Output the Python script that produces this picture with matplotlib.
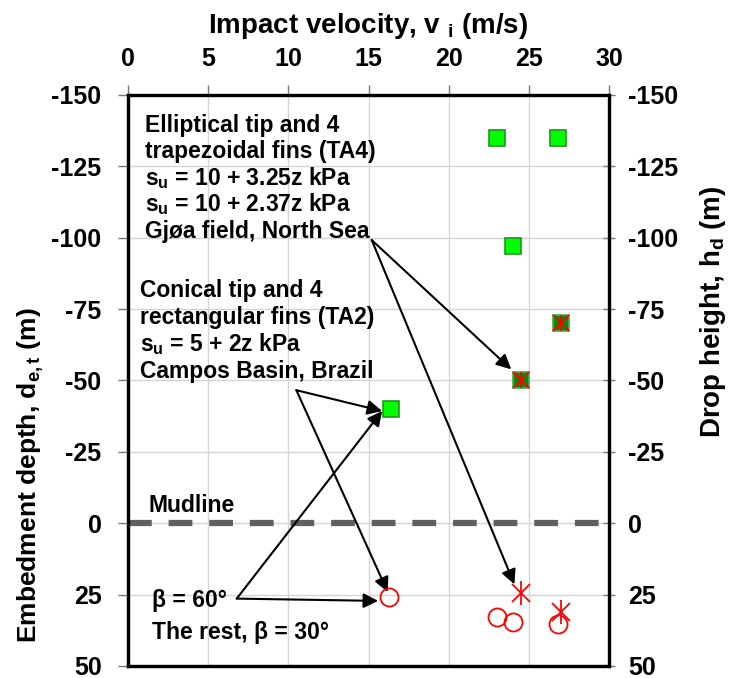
import numpy as np
import matplotlib.pyplot as plt

plt.rcParams['font.family'] = ['Liberation Sans', 'DejaVu Sans']
plt.rcParams['font.weight'] = 'bold'
plt.rcParams['axes.unicode_minus'] = False
plt.rcParams['mathtext.fontset'] = 'custom'
plt.rcParams['mathtext.rm'] = 'Liberation Sans:bold'
plt.rcParams['mathtext.it'] = 'Liberation Sans:bold'
plt.rcParams['mathtext.bf'] = 'Liberation Sans:bold'

# drop heights (negative = above mudline) vs impact velocity
ta4_v = [23.0, 26.8, 24.0]
ta4_h = [-135, -135, -97]
ta4_field_v = [27.0, 24.5]
ta4_field_h = [-70, -50]
ta2_v = [16.4]
ta2_h = [-40]

# embedment depths
ta4_emb_v = [23.0, 24.0, 26.8]
ta4_emb_d = [33.0, 34.6, 35.4]
ta4_field_emb_v = [24.5, 27.0]
ta4_field_emb_d = [24.4, 31.1]
ta2_emb_v = [16.3]
ta2_emb_d = [26.0]

mud_v = [0, 30]
mud_d = [0, 0]

yticks = [-150, -125, -100, -75, -50, -25, 0, 25, 50]
xticks = [0, 5, 10, 15, 20, 25, 30]

fig = plt.figure(figsize=(7.34, 6.78), dpi=100)
ax = fig.add_axes([0.1744, 0.0177, 0.6553, 0.8422])

ax.set_xlim(0, 30)
ax.set_ylim(50, -150)
ax.set_xticks(xticks)
ax.set_yticks(yticks)
ax.grid(True, color='#d4d4d4', lw=1.0)
ax.set_axisbelow(True)
ax.xaxis.tick_top()
ax.xaxis.set_label_position('top')
ax.tick_params(axis='both', labelsize=18, color='#777777', length=7, width=1)
ax.tick_params(axis='y', pad=12)
ax.tick_params(axis='x', pad=10)
for lab in ax.get_xticklabels() + ax.get_yticklabels():
    lab.set_fontweight('bold')
for s in ax.spines.values():
    s.set_linewidth(2.3)

ax.plot(mud_v, mud_d, color='#606060', lw=4.5, dashes=(3.8, 2.7), zorder=2)

ax.plot(ta4_v, ta4_h, 's', ms=12, mfc='#00ff00', mec='#1a9a1a', mew=1.2, zorder=4)
ax.plot(ta2_v, ta2_h, 's', ms=12, mfc='#00ff00', mec='#1a9a1a', mew=1.2, zorder=4)
ax.plot(ta4_field_v, ta4_field_h, 's', ms=12, mfc='#0a8a0a', mec='#4aaa4a', mew=1.2, zorder=4)
ax.plot(ta4_field_v, ta4_field_h, 'x', ms=11, color='red', mew=1.3, zorder=5)
ax.plot(ta4_field_v, ta4_field_h, '|', ms=12, color='red', mew=1.3, zorder=5)

ax.plot(ta4_emb_v, ta4_emb_d, 'o', ms=13, mfc='none', mec='red', mew=1.3, zorder=4)
ax.plot(ta2_emb_v, ta2_emb_d, 'o', ms=13, mfc='none', mec='red', mew=1.3, zorder=4)
ax.plot(ta4_field_emb_v, ta4_field_emb_d, 'x', ms=13, color='red', mew=1.3, zorder=5)
ax.plot(ta4_field_emb_v, ta4_field_emb_d, '|', ms=17, color='red', mew=1.3, zorder=5)

ax.set_xlabel(r'Impact velocity, v $_{\mathregular{i}}$ (m/s)', fontsize=20,
              fontweight='bold', labelpad=10)
ax.set_ylabel(r'Embedment depth, d$_{\mathregular{e,t}}$ (m)', fontsize=19,
              fontweight='bold')
ax.yaxis.set_label_coords(-0.17, 0.335)

ax2 = ax.twinx()
ax2.set_ylim(50, -150)
ax2.set_yticks(yticks)
ax2.tick_params(axis='y', labelsize=18, color='#777777', length=8, width=1,
                direction='inout', pad=10)
for lab in ax2.get_yticklabels():
    lab.set_fontweight('bold')
for s in ax2.spines.values():
    s.set_linewidth(2.3)
ax2.set_ylabel(r'Drop height, h$_{\mathregular{d}}$ (m)', fontsize=20, fontweight='bold')
ax2.yaxis.set_label_coords(1.184, 0.62)

# text blocks
ta4_lines = ['Elliptical tip and 4', 'trapezoidal fins (TA4)',
             r's$_{\mathregular{u}}$ = 10 + 3.25z kPa',
             r's$_{\mathregular{u}}$ = 10 + 2.37z kPa',
             'Gjøa field, North Sea']
for i, t in enumerate(ta4_lines):
    ax.text(1.06, -137.2 + i * 9.32, t, fontsize=16.5, fontweight='bold',
            va='baseline', ha='left')

ta2_lines = ['Conical tip and 4', 'rectangular fins (TA2)',
             r's$_{\mathregular{u}}$ = 5 + 2z kPa',
             'Campos Basin, Brazil']
for i, t in enumerate(ta2_lines):
    ax.text(0.75, -79.3 + i * 9.45, t, fontsize=16.5, fontweight='bold',
            va='baseline', ha='left')

ax.text(1.25, -3.9, 'Mudline', fontsize=16.5, fontweight='bold', va='baseline', ha='left')
ax.text(1.48, 29.3, 'β = 60°', fontsize=16.5, fontweight='bold', va='baseline', ha='left')
ax.text(1.48, 40.4, 'The rest, β = 30°', fontsize=16.5, fontweight='bold',
        va='baseline', ha='left')

arrow = dict(arrowstyle='-|>', mutation_scale=22, lw=1.5, color='k',
             shrinkA=0, shrinkB=0)
ax.annotate('', xy=(23.9, -53.9), xytext=(15.2, -99.2), arrowprops=arrow, zorder=3)
ax.annotate('', xy=(24.1, 21.4), xytext=(15.2, -99.2), arrowprops=arrow, zorder=3)
ax.annotate('', xy=(15.85, -39.3), xytext=(10.5, -46.6), arrowprops=arrow, zorder=3)
ax.annotate('', xy=(16.2, 24.1), xytext=(10.5, -46.6), arrowprops=arrow, zorder=3)
ax.annotate('', xy=(15.85, -39.3), xytext=(6.78, 26.4), arrowprops=arrow, zorder=3)
ax.annotate('', xy=(15.6, 27.2), xytext=(6.78, 26.4), arrowprops=arrow, zorder=3)

fig.savefig('out.png', dpi=100)
